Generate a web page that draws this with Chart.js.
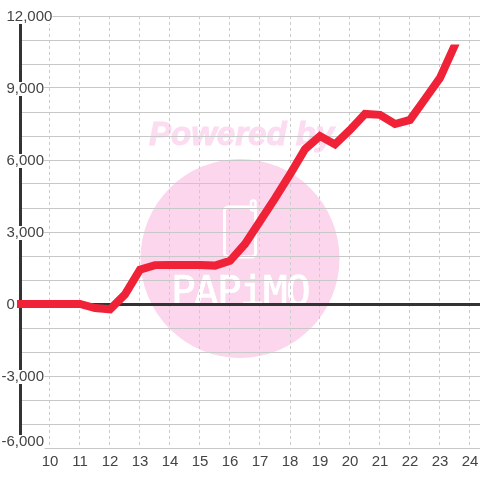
<!DOCTYPE html>
<html>
<head>
<meta charset="utf-8">
<style>
  html, body { margin: 0; padding: 0; background: #fff; }
  canvas { display: block; }
</style>
<script src="https://cdn.jsdelivr.net/npm/chart.js@4/dist/chart.umd.min.js"></script>
</head>
<body>
<canvas id="chart" width="480" height="480"></canvas>
<script>
const hours = [9, 9.5, 10, 10.5, 11, 11.5, 12, 12.5, 13, 13.5, 14, 14.5, 15, 15.5, 16, 16.5, 17, 17.5, 18, 18.5, 19, 19.5, 20, 20.5, 21, 21.5, 22, 22.5, 23, 23.5];
const values = [0, 0, 0, 0, 0, -170, -220, 400, 1430, 1620, 1630, 1630, 1630, 1600, 1800, 2500, 3450, 4400, 5400, 6450, 7000, 6650, 7250, 7920, 7880, 7500, 7670, 8540, 9420, 10800];
const yTickLabels = [-6000, -3000, 0, 3000, 6000, 9000, 12000];
const xTickLabels = [10, 11, 12, 13, 14, 15, 16, 17, 18, 19, 20, 21, 22, 23, 24];

const textColor = "#444";
const gridColor = "#c8c8c8";
const dashColor = "#cccccc";
const axisColor = "#333";
const pink = "#fbd6ed";
const labelFont = "15px 'Liberation Sans'";

function labelPos(value, y) {
  // the bottom label sits above its grid line
  return value === -6000 ? y - 7 : y;
}

const watermark = {
  id: "watermark",
  beforeDraw(chart) {
    const ctx = chart.ctx;
    ctx.save();
    ctx.fillStyle = "#fff";
    ctx.fillRect(0, 0, 480, 480);

    ctx.fillStyle = "#fbdcf0";
    ctx.strokeStyle = "#fbdcf0";
    ctx.lineWidth = 1;
    ctx.font = "italic bold 33px 'Liberation Sans'";
    ctx.textBaseline = "alphabetic";
    ctx.fillText("Powered by", 149, 145);
    ctx.strokeText("Powered by", 149, 145);

    ctx.fillStyle = pink;
    ctx.beginPath();
    ctx.arc(240, 258.5, 99.5, 0, Math.PI * 2);
    ctx.fill();

    // phone icon
    ctx.strokeStyle = "#fff";
    ctx.lineWidth = 3;
    ctx.beginPath();
    ctx.roundRect(224.5, 207, 31, 50, 4);
    ctx.stroke();
    ctx.lineWidth = 2.5;
    ctx.beginPath();
    ctx.roundRect(251, 200.5, 4.5, 10, 2);
    ctx.stroke();

    ctx.fillStyle = "#fff";
    ctx.strokeStyle = "#fff";
    ctx.lineWidth = 0.7;
    ctx.font = "41px 'DejaVu Sans Mono'";
    ctx.letterSpacing = "-1.7px";
    ctx.fillText("PAPiMO", 171, 305);
    ctx.strokeText("PAPiMO", 171, 305);
    ctx.restore();
  }
};

const yLabels = {
  id: "yLabels",
  beforeDatasetsDraw(chart) {
    const ctx = chart.ctx;
    const scale = chart.scales.y;
    ctx.save();
    ctx.font = labelFont;
    ctx.fillStyle = "#fff";
    yTickLabels.forEach(v => {
      const text = v.toLocaleString("en-US");
      const left = v < 0 ? 2 : 6.5;
      const cy = labelPos(v, scale.getPixelForValue(v));
      ctx.fillRect(left, cy - 6, ctx.measureText(text).width, 14);
    });
    ctx.restore();
  },
  afterDatasetsDraw(chart) {
    const ctx = chart.ctx;
    const scale = chart.scales.y;
    ctx.save();
    ctx.font = labelFont;
    ctx.fillStyle = textColor;
    ctx.textBaseline = "middle";
    yTickLabels.forEach(v => {
      const left = v < 0 ? 1.5 : 6.5;
      ctx.fillText(v.toLocaleString("en-US"), left, labelPos(v, scale.getPixelForValue(v)) + 1);
    });
    ctx.restore();
  }
};

new Chart(document.getElementById("chart"), {
  type: "line",
  plugins: [watermark, yLabels],
  data: {
    datasets: [{
      data: hours.map((h, i) => ({ x: h, y: values[i] })),
      borderColor: "#f02238",
      borderWidth: 8,
      borderCapStyle: "square",
      borderJoinStyle: "miter",
      pointRadius: 0,
      tension: 0,
      clip: { left: 3, top: -28.5, right: 0, bottom: 0 }
    }]
  },
  options: {
    responsive: false,
    animation: false,
    layout: { padding: { top: 16 } },
    plugins: { legend: { display: false }, tooltip: { enabled: false } },
    scales: {
      x: {
        type: "linear",
        min: 9,
        max: 9 + 460 / 30,
        afterFit(scale) {
          scale.height = 32;
          scale.paddingLeft = 0;
          scale.paddingRight = 0;
        },
        border: { display: false, dash: [3, 3] },
        grid: { color: dashColor, lineWidth: 1, drawTicks: false },
        ticks: {
          stepSize: 1,
          includeBounds: false,
          autoSkip: false,
          maxRotation: 0,
          padding: 5,
          color: textColor,
          font: { family: "'Liberation Sans'", size: 15 },
          callback: v => xTickLabels.includes(v) ? String(v) : ""
        }
      },
      y: {
        min: -6000,
        max: 12000,
        afterFit(scale) { scale.width = 20; },
        border: { display: true, color: axisColor, width: 3 },
        grid: {
          color: c => c.tick.value === 0 ? axisColor : gridColor,
          lineWidth: c => c.tick.value === 0 ? 3 : 1,
          drawTicks: false
        },
        ticks: { stepSize: 1000, display: false }
      }
    }
  }
});
</script>
</body>
</html>
